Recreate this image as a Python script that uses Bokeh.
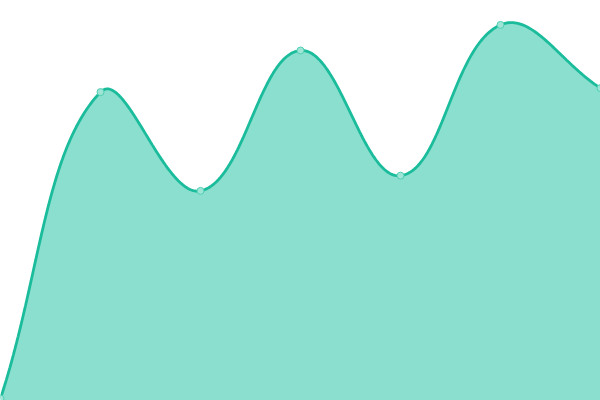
import numpy as np
from bokeh.plotting import figure
from bokeh.embed import file_html
from bokeh.resources import INLINE

# data
categories = [0, 1, 2, 3, 4, 5, 6]
values = [0.5, 77.1, 52.4, 87.5, 56.2, 93.9, 78.1]

W, H = 600, 400
XMIN, XMAX = 0, 6
YMIN, YMAX = 0, 100
TENSION = 0.4

p = figure(width=W, height=H, output_backend="svg", toolbar_location=None,
           x_range=(XMIN, XMAX), y_range=(YMIN, YMAX),
           min_border=0, min_border_left=0, min_border_right=0,
           min_border_top=0, min_border_bottom=0)
p.axis.visible = False
p.grid.visible = False
p.outline_line_color = None
p.background_fill_color = "white"
p.border_fill_color = "white"

# Chart.js-style spline control points, computed in screen-proportional units
sx = W / (XMAX - XMIN)
sy = H / (YMAX - YMIN)
xs = np.array(categories, float)
ys = np.array(values, float)
n = len(xs)
px, py = xs * sx, ys * sy
cp_prev = np.zeros((n, 2))
cp_next = np.zeros((n, 2))
for i in range(n):
    pr = i - 1 if i > 0 else i
    nx = i + 1 if i < n - 1 else i
    d01 = np.hypot(px[i] - px[pr], py[i] - py[pr])
    d12 = np.hypot(px[nx] - px[i], py[nx] - py[i])
    tot = d01 + d12
    s01 = d01 / tot if tot else 0
    s12 = d12 / tot if tot else 0
    fa, fb = TENSION * s01, TENSION * s12
    vx, vy = px[nx] - px[pr], py[nx] - py[pr]
    cp_prev[i] = (px[i] - fa * vx, py[i] - fa * vy)
    cp_next[i] = (px[i] + fb * vx, py[i] + fb * vy)
cp_prev[:, 1] = np.clip(cp_prev[:, 1], 0, H)
cp_next[:, 1] = np.clip(cp_next[:, 1], 0, H)

t = np.linspace(0, 1, 60)[:, None]
segs = []
for i in range(n - 1):
    P0 = np.array([px[i], py[i]])
    C1 = cp_next[i]
    C2 = cp_prev[i + 1]
    P3 = np.array([px[i + 1], py[i + 1]])
    B = ((1 - t) ** 3) * P0 + 3 * ((1 - t) ** 2) * t * C1 + 3 * (1 - t) * t ** 2 * C2 + t ** 3 * P3
    segs.append(B if i == 0 else B[1:])
curve = np.vstack(segs)
cx = curve[:, 0] / sx + XMIN
cy = curve[:, 1] / sy + YMIN

p.varea(x=cx, y1=np.full_like(cy, YMIN), y2=cy, fill_color="#17c09e", fill_alpha=0.5)
p.line(cx, cy, line_color="#1abc9c", line_width=2.8)
p.scatter(categories, values, size=7, marker="circle", fill_color="#9fe5d6",
          fill_alpha=1.0, line_color="#4fcfb3", line_width=1)

open("out.html", "w").write(file_html(p, INLINE))
